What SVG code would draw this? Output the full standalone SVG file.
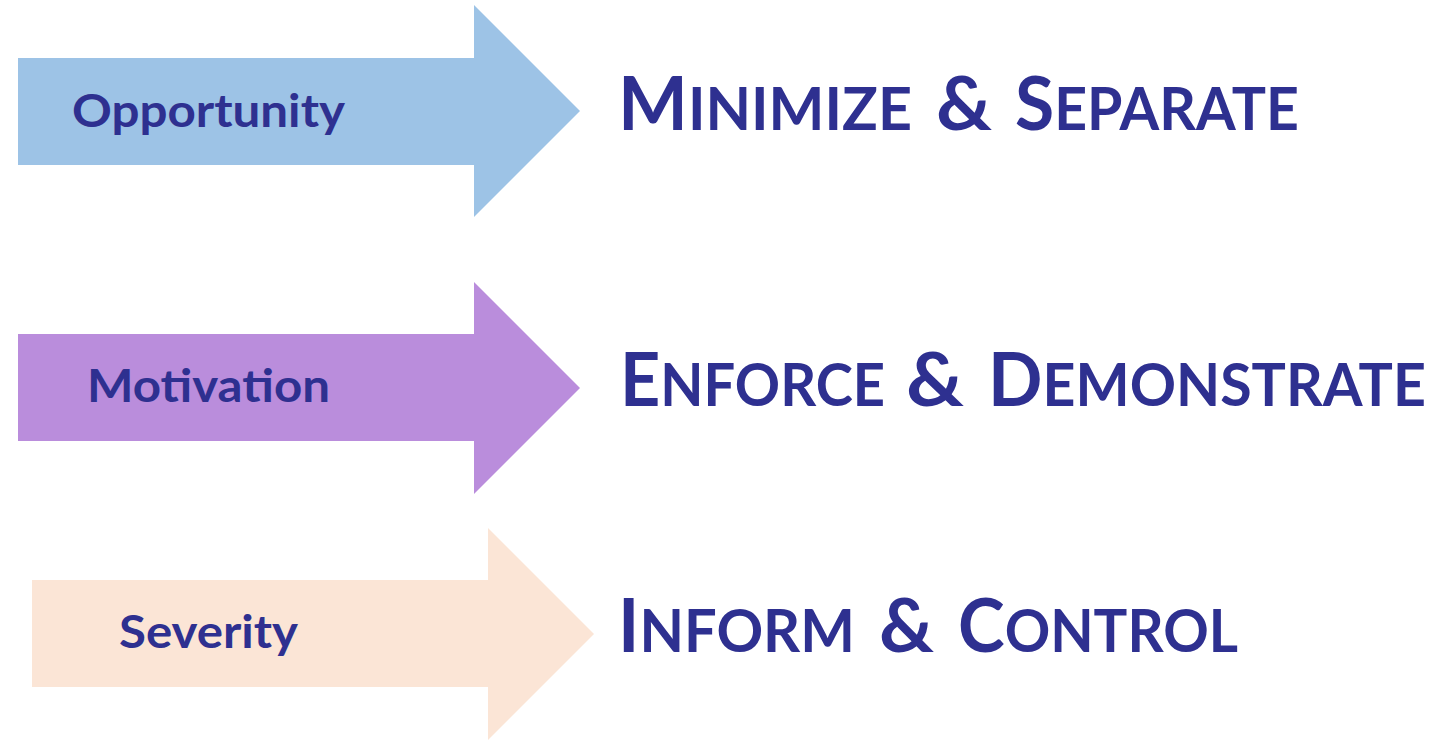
<svg xmlns="http://www.w3.org/2000/svg" width="1444" height="744" viewBox="0 0 1444 744">
  <style>
    .label { font-family: Lato, "Open Sans", "Liberation Sans", sans-serif; font-weight: 700; fill: #2E3090; font-size: 46px; }
    .action { font-family: Lato, "Open Sans", "Liberation Sans", sans-serif; font-weight: 700; fill: #2E3090; font-size: 60px; }
    .cap { font-size: 75px; }
  </style>
  <rect width="1444" height="744" fill="#FFFFFF"/>

  <g id="opportunity">
    <polygon points="18,58 474,58 474,5 580,111 474,217 474,165 18,165" fill="#9DC3E6"/>
    <text class="label" x="72" y="127" textLength="273" lengthAdjust="spacingAndGlyphs">Opportunity</text>
  </g>

  <g id="motivation">
    <polygon points="18,334 474,334 474,282 580,388 474,494 474,441 18,441" fill="#BA8DDC"/>
    <text class="label" x="87" y="402" textLength="243" lengthAdjust="spacingAndGlyphs">Motivation</text>
  </g>

  <g id="severity">
    <polygon points="32,580 488,580 488,528 594,634 488,740 488,687 32,687" fill="#FBE5D6"/>
    <text class="label" x="119" y="648" textLength="179" lengthAdjust="spacingAndGlyphs">Severity</text>
  </g>

  <!-- small-caps headings: first letter full size, rest reduced -->
  <g id="minimize-separate">
    <text class="action" x="618" y="130" textLength="294" lengthAdjust="spacingAndGlyphs"><tspan class="cap">M</tspan>INIMIZE</text>
    <text class="action cap" x="936" y="130" textLength="56" lengthAdjust="spacingAndGlyphs">&amp;</text>
    <text class="action" x="1015" y="130" textLength="284" lengthAdjust="spacingAndGlyphs"><tspan class="cap">S</tspan>EPARATE</text>
  </g>

  <g id="enforce-demonstrate">
    <text class="action" x="620" y="406" textLength="265" lengthAdjust="spacingAndGlyphs"><tspan class="cap">E</tspan>NFORCE</text>
    <text class="action cap" x="906" y="406" textLength="58" lengthAdjust="spacingAndGlyphs">&amp;</text>
    <text class="action" x="988" y="406" textLength="438" lengthAdjust="spacingAndGlyphs"><tspan class="cap">D</tspan>EMONSTRATE</text>
  </g>

  <g id="inform-control">
    <text class="action" x="618" y="652" textLength="237" lengthAdjust="spacingAndGlyphs"><tspan class="cap">I</tspan>NFORM</text>
    <text class="action cap" x="879" y="652" textLength="55" lengthAdjust="spacingAndGlyphs">&amp;</text>
    <text class="action" x="958" y="652" textLength="280" lengthAdjust="spacingAndGlyphs"><tspan class="cap">C</tspan>ONTROL</text>
  </g>

  <g id="connectors"></g>
</svg>
